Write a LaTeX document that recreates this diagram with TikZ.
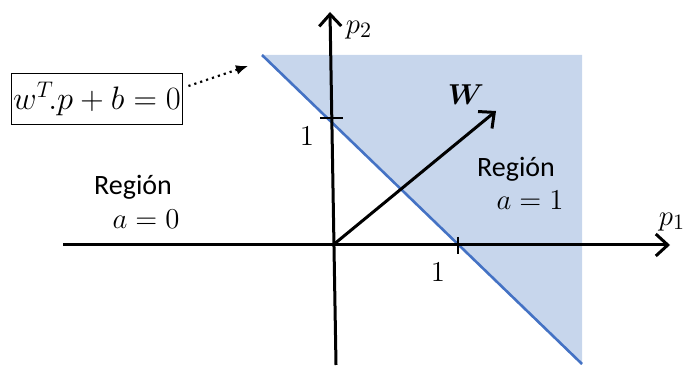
\documentclass[tikz,border=0pt]{standalone}
\usepackage{amsmath}
\usepackage{fontspec}
\setmainfont{Carlito}
\usetikzlibrary{arrows.meta}
\definecolor{regfill}{HTML}{C7D6EC}
\definecolor{regline}{HTML}{4472C4}

\begin{document}
\begin{tikzpicture}[
  x=0.5pt,y=-0.5pt,
  axis/.style={line width=1.5pt,-{Straight Barb[length=6pt,width=11pt,line width=1.5pt]}},
  lbl/.style={inner sep=1pt,font=\fontsize{14}{16}\selectfont},
  mlbl/.style={inner sep=1pt,font=\fontsize{15}{18}\selectfont}]
\useasboundingbox (0,0) rectangle (684,367);
% half-plane a = 1
\fill[regfill] (262,55) -- (582,55) -- (582,365) -- cycle;
\draw[regline,line width=1.3pt] (262,55) coordinate (bt) -- (582,364) coordinate (bb);
% axes
\coordinate (o) at (333,245);
\coordinate (xl) at (63,245);
\coordinate (xr) at (670,245);
\coordinate (yb) at (336,365);
\coordinate (yt) at (330,12);
\draw[axis] (xl) -- (xr);
\draw[axis] (yb) -- (yt);
\node[mlbl] (p1) at (672,222) {$p_1$};
\node[mlbl] (p2) at (359,30) {$p_2$};
% ticks
\draw[line width=0.6pt] (320,118) -- (343,118);
\draw[line width=0.6pt] (458,237) -- (458,254);
\node[mlbl] (one2) at (307,136) {$1$};
\node[mlbl] (one1) at (438,272) {$1$};
% weight vector
\coordinate (wt) at (496,111);
\draw[axis] (o) -- (wt);
\node[mlbl] (w) at (466,95) {$\boldsymbol{W}$};
% decision boundary label
\node[draw,line width=0.6pt,inner xsep=1pt,inner ysep=4.5pt,font=\fontsize{17}{20}\selectfont] (eq) at (97,99) {\scalebox{0.94}{$w^T\!.p+b=0$}};
\coordinate (ds) at ([shift={(5,-13)}]eq.east);
\coordinate (dt) at (248,66);
\draw[line width=1.1pt,dotted,-{Latex[length=6pt,width=5pt]}] (ds) -- (dt);
% regions
\node[lbl] (r0) at (133,187) {Región};
\node[mlbl] (a0) at (146,219) {$a=0$};
\node[lbl] (r1) at (516,169) {Región};
\node[mlbl] (a1) at (530,200) {$a=1$};
\end{tikzpicture}
\end{document}
